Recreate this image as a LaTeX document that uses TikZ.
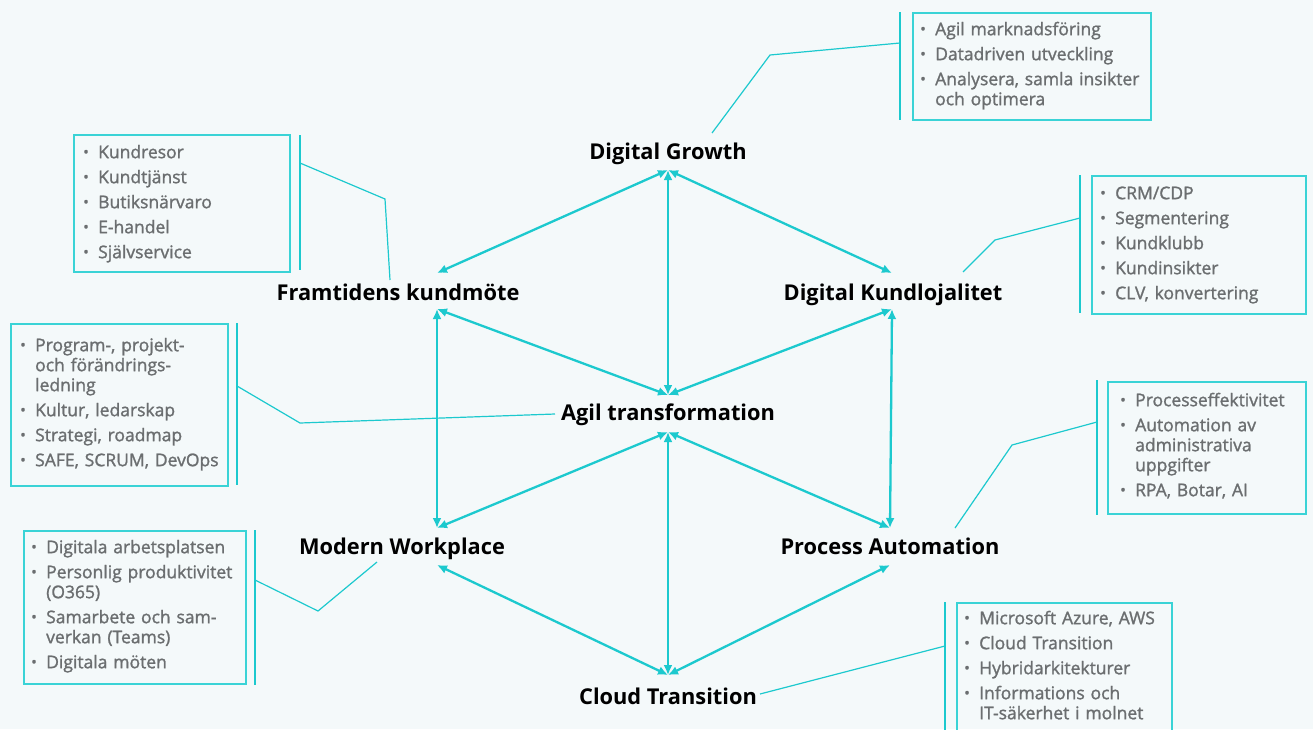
\documentclass[tikz,border=0pt]{standalone}
\usepackage{fontspec}
\setmainfont{Open Sans}
\newfontfamily\listfont{Open Sans}[FakeBold=1.4]
\usetikzlibrary{arrows.meta}
\definecolor{bg}{HTML}{F4F9FA}
\definecolor{turq}{HTML}{1CC9CE}
\definecolor{boxline}{HTML}{3AD3D6}
\definecolor{listgray}{HTML}{6B6E70}
\newcommand\bitem[1]{\par\setlength{\parskip}{5pt}\hangindent=15pt\hangafter=1\noindent
  \makebox[15pt][l]{\fontsize{15}{15}\selectfont\raisebox{1pt}{\textbullet}}\strut#1\par}
\begin{document}
\begin{tikzpicture}
    [
    x=1pt, y=-1pt,
    title/.style={font=\bfseries\fontsize{21.8}{24}\selectfont,text=black,anchor=base,inner sep=0pt},
    link/.style={turq,line width=2.3pt,arrows={Latex[length=10pt,width=9pt]-Latex[length=10pt,width=9pt]}},
    callout/.style={turq,line width=1.2pt},
    infobox/.style={draw=boxline,line width=1.8pt,anchor=north west,inner sep=0pt},
    list/.style={anchor=north west,inner sep=0pt,text width=280pt,text=listgray,font=\listfont\fontsize{17.5}{20}\selectfont}
    ]
    \fill [bg] (0,0) rectangle (1313,729);
    \useasboundingbox (0,0) rectangle (1313,729);

    % the seven areas
    \node (dg) at (668,159) [title] {Digital Growth};
    \node (fk) at (398,300) [title] {Framtidens kundmöte};
    \node (dk) at (893,300) [title] {Digital Kundlojalitet};
    \node (at) at (668,420) [title] {Agil transformation};
    \node (mw) at (402,554) [title] {Modern Workplace};
    \node (pa) at (890,554) [title] {Process Automation};
    \node (ct) at (668,704) [title] {Cloud Transition};

    \coordinate (dgS) at (668,170);
    \coordinate (fkN) at (437,273);
    \coordinate (fkS) at (437,309);
    \coordinate (dkN) at (892,273);
    \coordinate (dkS) at (892,309);
    \coordinate (atN) at (668,395);
    \coordinate (atS) at (668,432);
    \coordinate (mwN) at (437,528);
    \coordinate (mwS) at (437,565);
    \coordinate (paN) at (890,528);
    \coordinate (paS) at (890,565);
    \coordinate (ctN) at (668,675);

    \draw [link] (dgS) to (fkN);
    \draw [link] (dgS) to (dkN);
    \draw [link] (dgS) to (atN);
    \draw [link] (fkS) to (atN);
    \draw [link] (dkS) to (atN);
    \draw [link] (fkS) to (mwN);
    \draw [link] (dkS) to (paN);
    \draw [link] (atS) to (mwN);
    \draw [link] (atS) to (paN);
    \draw [link] (atS) to (ctN);
    \draw [link] (mwS) to (ctN);
    \draw [link] (paS) to (ctN);

    % Digital Growth
    \node (dgbox) at (912,12) [infobox,minimum width=238,minimum height=107] {};
    \node (dglist) at (920,10) [list] {%
      \bitem{Agil marknadsföring}
      \bitem{Datadriven utveckling}
      \bitem{Analysera, samla insikter\newline och optimera}};
    \coordinate (dgbarA) at (900,12);
    \coordinate (dgbarB) at (900,120);
    \coordinate (dgbend) at (770,55);
    \coordinate (dgtip) at (712,133);
    \draw [callout] (dgbarA) -- (dgbarB);
    \draw [callout] (900,43) -- (dgbend) -- (dgtip);

    % Framtidens kundmöte
    \node (fkbox) at (73,134) [infobox,minimum width=216,minimum height=137] {};
    \node (fklist) at (83,133) [list] {%
      \bitem{Kundresor}
      \bitem{Kundtjänst}
      \bitem{Butiksnärvaro}
      \bitem{E-handel}
      \bitem{Självservice}};
    \coordinate (fkbarA) at (300,135);
    \coordinate (fkbarB) at (300,270);
    \coordinate (fkbend) at (385,199);
    \coordinate (fktip) at (390,280);
    \draw [callout] (fkbarA) -- (fkbarB);
    \draw [callout] (300,163) -- (fkbend) -- (fktip);

    % Digital Kundlojalitet
    \node (dkbox) at (1091,175) [infobox,minimum width=214,minimum height=138] {};
    \node (dklist) at (1100,174) [list] {%
      \bitem{CRM/CDP}
      \bitem{Segmentering}
      \bitem{Kundklubb}
      \bitem{Kundinsikter}
      \bitem{CLV, konvertering}};
    \coordinate (dkbarA) at (1080,175);
    \coordinate (dkbarB) at (1080,313);
    \coordinate (dkbend) at (995,240);
    \coordinate (dktip) at (963,272);
    \draw [callout] (dkbarA) -- (dkbarB);
    \draw [callout] (1080,218) -- (dkbend) -- (dktip);

    % Agil transformation
    \node (atbox) at (10,323) [infobox,minimum width=217,minimum height=162] {};
    \node (atlist) at (20,326) [list] {%
      \bitem{Program-, projekt-\newline och förändrings-\newline ledning}
      \bitem{Kultur, ledarskap}
      \bitem{Strategi, roadmap}
      \bitem{SAFE, SCRUM, DevOps}};
    \coordinate (atbarA) at (237,323);
    \coordinate (atbarB) at (237,485);
    \coordinate (atbend) at (300,423);
    \coordinate (attip) at (555,414);
    \draw [callout] (atbarA) -- (atbarB);
    \draw [callout] (237,386) -- (atbend) -- (attip);

    % Process Automation
    \node (pabox) at (1107,381) [infobox,minimum width=198,minimum height=132] {};
    \node (palist) at (1120,381) [list] {%
      \bitem{Processeffektivitet}
      \bitem{Automation av\newline administrativa\newline uppgifter}
      \bitem{RPA, Botar, AI}};
    \coordinate (pabarA) at (1097,380);
    \coordinate (pabarB) at (1097,515);
    \coordinate (pabend) at (1012,445);
    \coordinate (patip) at (955,528);
    \draw [callout] (pabarA) -- (pabarB);
    \draw [callout] (1097,422) -- (pabend) -- (patip);

    % Modern Workplace
    \node (mwbox) at (23,530) [infobox,minimum width=222,minimum height=153] {};
    \node (mwlist) at (31,528) [list] {%
      \bitem{Digitala arbetsplatsen}
      \bitem{Personlig produktivitet\newline (O365)}
      \bitem{Samarbete och sam-\newline verkan (Teams)}
      \bitem{Digitala möten}};
    \coordinate (mwbarA) at (255,530);
    \coordinate (mwbarB) at (255,685);
    \coordinate (mwbend) at (318,611);
    \coordinate (mwtip) at (377,562);
    \draw [callout] (mwbarA) -- (mwbarB);
    \draw [callout] (255,580) -- (mwbend) -- (mwtip);

    % Cloud Transition
    \node (ctbox) at (956,602) [infobox,minimum width=215,minimum height=140] {};
    \node (ctlist) at (964,599) [list] {%
      \bitem{Microsoft Azure, AWS}
      \bitem{Cloud Transition}
      \bitem{Hybridarkitekturer}
      \bitem{Informations och\newline IT-säkerhet i molnet}};
    \coordinate (ctbarA) at (945,602);
    \coordinate (ctbarB) at (945,735);
    \coordinate (cttip) at (760,694);
    \draw [callout] (ctbarA) -- (ctbarB);
    \draw [callout] (945,646) -- (cttip);
  \end{tikzpicture}
\end{document}
